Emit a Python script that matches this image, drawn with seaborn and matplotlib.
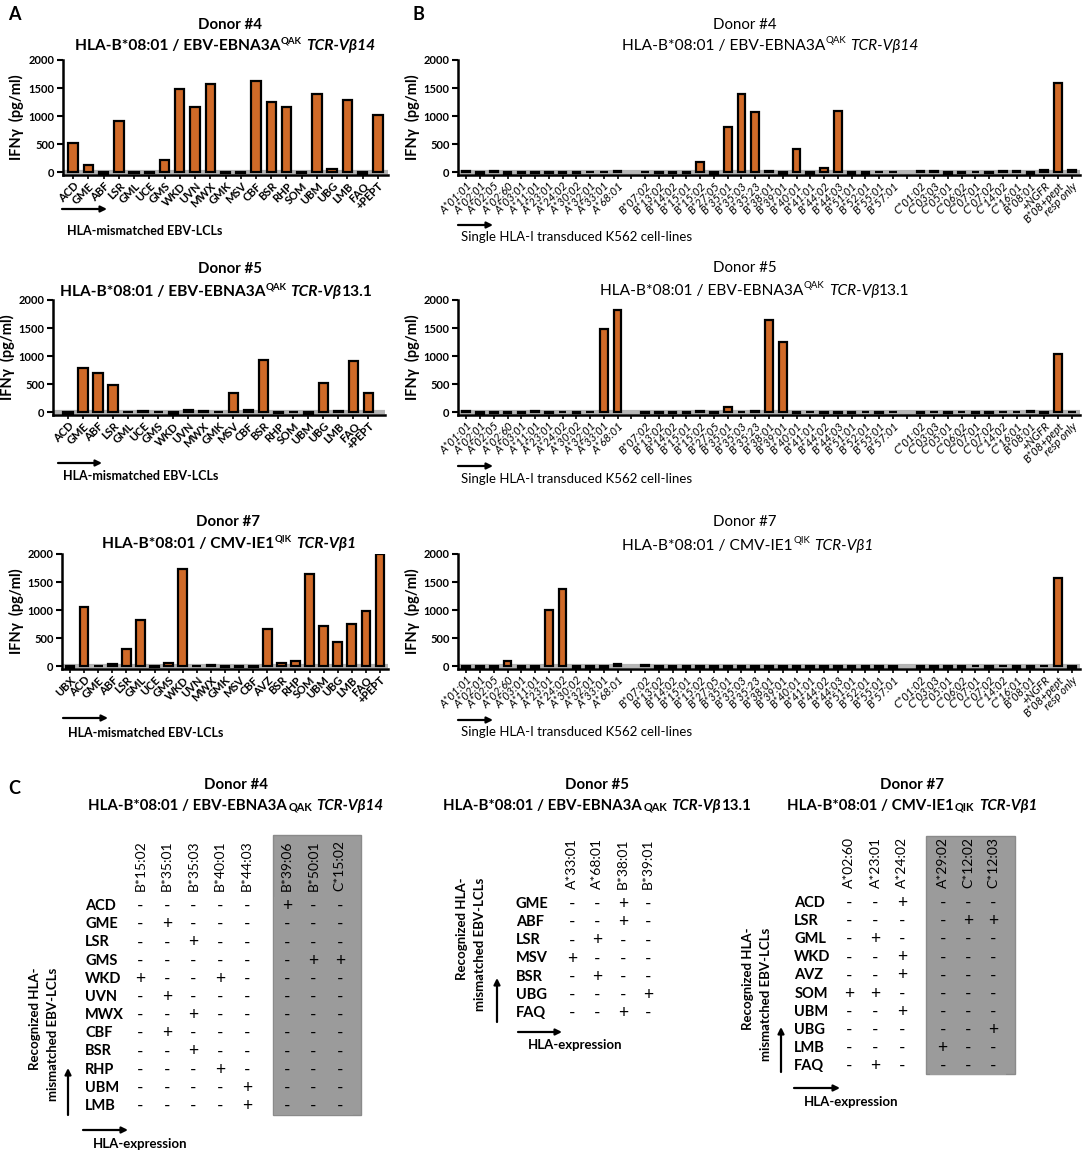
import numpy as np
import pandas as pd
import matplotlib
matplotlib.use("Agg")
import matplotlib.pyplot as plt
import seaborn as sns
from matplotlib.colors import ListedColormap
from matplotlib.patches import Rectangle

sns.set_theme(style="ticks")
plt.rcParams["font.family"] = ["Lato", "DejaVu Sans"]
for k in ("text.color", "axes.labelcolor", "xtick.color", "ytick.color", "axes.edgecolor"):
    plt.rcParams[k] = "black"

# DATA

# panel A: HLA-mismatched EBV-LCLs
lcl_d4 = ["ACD", "GME", "ABF", "LSR", "GML", "UCE", "GMS", "WKD", "UVN", "MWX", "GMK",
          "MSV", "CBF", "BSR", "RHP", "SOM", "UBM", "UBG", "LMB", "FAQ", "+PEPT"]
ifn_lcl_d4 = [530, 130, -20, 920, -5, -15, 220, 1480, 1170, 1580, -5,
              -10, 1620, 1260, 1170, -5, 1400, 60, 1290, -20, 1030]
lcl_d5 = lcl_d4
ifn_lcl_d5 = [-20, 790, 700, 490, 10, 30, 0, -20, 50, 25, 15,
              350, 50, 930, -15, 10, -20, 520, 20, 920, 350]
lcl_d7 = ["UBX", "ACD", "GME", "ABF", "LSR", "GML", "UCE", "GMS", "WKD", "UVN", "MWX", "GMK",
          "MSV", "CBF", "AVZ", "BSR", "RHP", "SOM", "UBM", "UBG", "LMB", "FAQ", "+PEPT"]
ifn_lcl_d7 = [-20, 1060, 0, 40, 310, 820, -15, 70, 1740, 10, 25, -10,
              -15, -15, 670, 70, 90, 1650, 720, 440, 760, 980, 2000]

# panel B: single HLA-I transduced K562 ("" = gap)
k562_lines = ["A*01:01", "A*02:01", "A*02:05", "A*02:60", "A*03:01", "A*11:01", "A*23:01",
              "A*24:02", "A*30:02", "A*32:01", "A*33:01", "A*68:01", "",
              "B*07:02", "B*13:02", "B*14:02", "B*15:01", "B*15:02", "B*27:05", "B*35:01",
              "B*35:03", "B*35:23", "B*38:01", "B*39:01", "B*40:01", "B*41:01", "B*44:02",
              "B*44:03", "B*51:01", "B*52:01", "B*55:01", "B*57:01", "",
              "C*01:02", "C*03:03", "C*05:01", "C*06:02", "C*07:01", "C*07:02", "C*14:02",
              "C*16:01", "B*08:01", "+NGFR", "B*08+pept", "resp only"]
nan = np.nan
ifn_k562_d4 = [30, -20, 25, -20, -15, -15, -15, -10, -15, 10, 15, 30, nan,
               0, -15, -15, -10, 180, -20, 800, 1400, 1080, 30, -20, 410, -20, 80,
               1090, -20, -20, 10, 15, nan,
               20, 30, -20, -15, 10, -15, 25, 20, -20, 40, 1590, 40]
ifn_k562_d5 = [20, -20, -15, -15, -15, 30, -15, 15, -15, 10, 1490, 1820, nan,
               -15, -15, -10, -15, 20, -15, 100, 10, 20, 1650, 1260, -15, 15, -15,
               -15, -15, 15, -15, 10, nan,
               -15, 10, -15, 10, -15, -15, 10, 15, 20, -15, 1040, 15]
ifn_k562_d7 = [-20, -20, -20, 90, -20, -20, 1000, 1380, -20, -20, -20, 40, nan,
               30, -20, -20, -20, -20, -20, -20, -20, -20, -20, -20, -20, -20, -20,
               -20, -20, -20, -20, -20, nan,
               -20, -20, -20, -20, 5, -20, 10, -20, -20, 15, 1580, -20]

# panel C: recognition tables
tab_d4_rows = ["ACD", "GME", "LSR", "GMS", "WKD", "UVN", "MWX", "CBF", "BSR", "RHP", "UBM", "LMB"]
tab_d4_cols = ["B*15:02", "B*35:01", "B*35:03", "B*40:01", "B*44:03"]
tab_d4_cols_grey = ["B*39:06", "B*50:01", "C*15:02"]
tab_d4_marks = ["-----", "-+---", "--+--", "-----", "+--+-", "-+---",
                "--+--", "-+---", "--+--", "---+-", "----+", "----+"]
tab_d4_marks_grey = ["+--", "---", "---", "-++", "---", "---",
                     "---", "---", "---", "---", "---", "---"]

tab_d5_rows = ["GME", "ABF", "LSR", "MSV", "BSR", "UBG", "FAQ"]
tab_d5_cols = ["A*33:01", "A*68:01", "B*38:01", "B*39:01"]
tab_d5_marks = ["--+-", "--+-", "-+--", "+---", "-+--", "---+", "--+-"]

tab_d7_rows = ["ACD", "LSR", "GML", "WKD", "AVZ", "SOM", "UBM", "UBG", "LMB", "FAQ"]
tab_d7_cols = ["A*02:60", "A*23:01", "A*24:02"]
tab_d7_cols_grey = ["A*29:02", "C*12:02", "C*12:03"]
tab_d7_marks = ["--+", "---", "-+-", "--+", "--+", "++-", "--+", "---", "---", "-+-"]
tab_d7_marks_grey = ["---", "-++", "---", "---", "---", "---", "---", "--+", "+--", "---"]

ORANGE = "#D06A28"
GREY = "#9b9b9b"

W, H = 1084, 1154
fig = plt.figure(figsize=(W / 100, H / 100), dpi=100)

bg = fig.add_axes([0, 0, 1, 1])
bg.axis("off")
bg.set_xlim(0, W)
bg.set_ylim(H, 0)


def box(l, t, r, b):
    return [l / W, 1 - b / H, (r - l) / W, (b - t) / H]


def rich(x, y, pieces):
    # chain text pieces left to right, then centre the whole line on x
    arts = []
    for s, kw in pieces:
        kw = dict(kw)
        dy = kw.pop("dy", 0)
        dx = kw.pop("dx", 0)
        if not arts:
            t = bg.text(x, y, s, ha="left", va="baseline", **kw)
        else:
            t = bg.annotate(s, xy=(1, y), xycoords=(arts[-1], "data"), xytext=(dx, dy),
                            textcoords="offset points", ha="left", va="baseline", **kw)
        arts.append(t)
    fig.canvas.draw()
    r = fig.canvas.get_renderer()
    x0 = arts[0].get_window_extent(r).x0
    x1 = arts[-1].get_window_extent(r).x1
    arts[0].set_x(x - (x1 - x0) / 2)


def bar_title(x1, y1, x2, y2, donor, antigen, sup, vb, tail, bold, size=11.2):
    w = "bold" if bold else "normal"
    bg.text(x1, y1, donor, ha="center", va="baseline", fontsize=10.8, fontweight=w)
    pieces = [("HLA-B*08:01 / " + antigen, dict(fontsize=size, fontweight=w)),
              (sup, dict(fontsize=size * 0.62, fontweight=w, dy=5)),
              ("TCR-Vβ" + vb, dict(fontsize=size, fontweight=w, style="italic", dx=3))]
    if tail:
        pieces.append((tail, dict(fontsize=size, fontweight=w)))
    rich(x2, y2, pieces)


def table_title(x, y, donor, antigen, sc, vb, tail):
    bg.text(x, y - 21, donor, ha="center", va="baseline", fontsize=10.8, fontweight="bold")
    pieces = [("HLA-B*08:01 / " + antigen, dict(fontsize=10.8, fontweight="bold")),
              (sc, dict(fontsize=7.8, fontweight="bold", dx=1)),
              ("TCR-Vβ" + vb, dict(fontsize=10.8, fontweight="bold", style="italic", dx=3))]
    if tail:
        pieces.append((tail, dict(fontsize=10.8, fontweight="bold")))
    rich(x, y, pieces)


def arrow(x1, y1, x2, y2):
    bg.annotate("", xy=(x2, y2), xytext=(x1, y1),
                arrowprops=dict(arrowstyle="-|>", lw=1.6, color="black", mutation_scale=9,
                                shrinkA=0, shrinkB=0))


def ifn_bars(rect, lines, vals, xlim, k562=False):
    ax = fig.add_axes(rect)
    ax.patch.set_alpha(0)
    order = [n if n else f"gap{i}" for i, n in enumerate(lines)]
    df = pd.DataFrame({"line": order, "ifn": vals}).dropna()
    ax.axhline(0, color="#b5b5b5", lw=3, zorder=0.5)
    sns.barplot(data=df, x="line", y="ifn", order=order, color=ORANGE, saturation=1,
                edgecolor="black", linewidth=1.6, width=0.62 if not k562 else 0.55,
                errorbar=None, ax=ax)
    ax.set_xlim(*xlim)
    ax.set_ylim(-45, 2000)
    ax.set_yticks([0, 500, 1000, 1500, 2000])
    ax.set_yticklabels(["0", "500", "1000", "1500", "2000"], fontsize=8, fontweight="bold")
    ax.set_xticks(range(len(lines)))
    if k562:
        ax.set_xticklabels(lines, rotation=45, ha="right", rotation_mode="anchor",
                           fontsize=8, style="italic")
    else:
        ax.set_xticklabels(lines, rotation=45, ha="right", rotation_mode="anchor",
                           fontsize=8, fontweight="bold")
    ax.set_xlabel("")
    ax.set_ylabel("IFNγ  (pg/ml)", fontsize=10.5, fontweight="bold", labelpad=3)
    sns.despine(ax=ax)
    for sp in ("left", "bottom"):
        ax.spines[sp].set_linewidth(1.8)
    ax.tick_params(axis="y", length=4, width=1.5, pad=2)
    ax.tick_params(axis="x", length=3, width=1.2, pad=1)
    return ax


# PANEL A

ifn_bars(box(63, 60, 388, 175), lcl_d4, ifn_lcl_d4, (-0.66, 20.66))
bar_title(230, 29, 225, 50, "Donor #4", "EBV-EBNA3A", "QAK", "14", "", True)
arrow(62, 209, 107, 209)
bg.text(67, 231, "HLA-mismatched EBV-LCLs", fontsize=9, fontweight="bold", va="center")

ifn_bars(box(53, 300, 385, 415), lcl_d5, ifn_lcl_d5, (-1.0, 21.1))
bar_title(230, 273, 216, 296, "Donor #5", "EBV-EBNA3A", "QAK", "", "13.1", True)
arrow(58, 463, 102, 463)
bg.text(63, 476, "HLA-mismatched EBV-LCLs", fontsize=9, fontweight="bold", va="center")

ifn_bars(box(62, 554, 388, 669), lcl_d7, ifn_lcl_d7, (-0.57, 22.57))
bar_title(228, 526, 229, 548, "Donor #7", "CMV-IE1", "QIK", "1", "", True)
arrow(63, 718, 108, 718)
bg.text(68, 733, "HLA-mismatched EBV-LCLs", fontsize=9, fontweight="bold", va="center")

# PANEL B

for top, vals in [(60, ifn_k562_d4), (300, ifn_k562_d5), (554, ifn_k562_d7)]:
    ifn_bars(box(458, top, 1080, top + 115), k562_lines, vals, (-0.6, 44.6), k562=True)
bar_title(745, 29, 770, 50, "Donor #4", "EBV-EBNA3A", "QAK", "14", "", False)
bar_title(745, 272, 755, 295, "Donor #5", "EBV-EBNA3A", "QAK", "", "13.1", False)
bar_title(745, 526, 748, 550, "Donor #7", "CMV-IE1", "QIK", "1", "", False)
for y_arr, y_txt in [(225, 237), (466, 479), (720, 732)]:
    arrow(458, y_arr, 493, y_arr)
    bg.text(461, y_txt, "Single HLA-I transduced K562 cell-lines", fontsize=9.5, va="center")

# PANEL C


def cross_table(rect, rows, cols, marks, grey, show_rows, pad_x):
    ax = fig.add_axes(rect)
    ax.patch.set_alpha(0)
    signs = np.array([list(m) for m in marks])
    shade = pd.DataFrame(1 if grey else 0, index=rows, columns=cols)
    sns.heatmap(shade, ax=ax, cmap=ListedColormap(["white", GREY]), vmin=0, vmax=1,
                cbar=False, annot=signs, fmt="", annot_kws=dict(fontsize=12.5, color="black"),
                xticklabels=cols, yticklabels=rows if show_rows else False)
    ax.xaxis.tick_top()
    ax.set_xticklabels(cols, rotation=90, fontsize=10, va="bottom", ha="center")
    ax.tick_params(axis="x", length=0, pad=4)
    ax.set_xlabel("")
    ax.set_ylabel("")
    if show_rows:
        ax.set_yticklabels(rows, rotation=0, fontsize=10.5, fontweight="bold", ha="left")
        ax.tick_params(axis="y", length=0, pad=pad_x)
    return ax


def side_labels(xv, yv0, yv1, xt, yt, xh0, xh1, yh, xe, ye):
    arrow(xv, yv0, xv, yv1)
    kw = dict(rotation=90, ha="center", va="top", fontsize=9.5, fontweight="bold")
    bg.text(xt, yt, "Recognized HLA-", **kw)
    bg.text(xt + 18, yt + 1, "mismatched EBV-LCLs", **kw)
    arrow(xh0, yh, xh1, yh)
    bg.text(xe, ye, "HLA-expression", fontsize=9.5, fontweight="bold", va="center")


# donor 4
bg.add_patch(Rectangle((273, 835), 88, 280, facecolor=GREY, edgecolor="#8a8a8a", lw=1, zorder=0))
cross_table(box(127, 897, 260, 1115), tab_d4_rows, tab_d4_cols, tab_d4_marks, False, True, 30)
cross_table(box(274, 897, 353, 1115), tab_d4_rows, tab_d4_cols_grey, tab_d4_marks_grey,
            True, False, 0)
table_title(236, 810, "Donor #4", "EBV-EBNA3A", "QAK", "14", "")
side_labels(68, 1115, 1068, 35, 967, 83, 128, 1130, 93, 1144)

# donor 5
cross_table(box(559, 895, 661, 1022), tab_d5_rows, tab_d5_cols, tab_d5_marks, False, True, 31)
table_title(597, 810, "Donor #5", "EBV-EBNA3A", "QAK", "", "13.1")
side_labels(497, 1022, 978, 462, 877, 518, 562, 1032, 528, 1045)

# donor 7
bg.add_patch(Rectangle((926, 836), 89, 238, facecolor=GREY, edgecolor="#8a8a8a", lw=1, zorder=0))
cross_table(box(836, 894, 915, 1075), tab_d7_rows, tab_d7_cols, tab_d7_marks, False, True, 30)
cross_table(box(930, 894, 1006, 1075), tab_d7_rows, tab_d7_cols_grey, tab_d7_marks_grey,
            True, False, 0)
table_title(912, 810, "Donor #7", "CMV-IE1", "QIK", "1", "")
side_labels(781, 1072, 1027, 748, 927, 794, 840, 1088, 804, 1102)

# panel letters
for x, y, s in [(8, 14, "A"), (413, 14, "B"), (8, 788, "C")]:
    bg.text(x, y, s, fontsize=13, fontweight="bold", va="center")

fig.savefig("out.png", dpi=100)
